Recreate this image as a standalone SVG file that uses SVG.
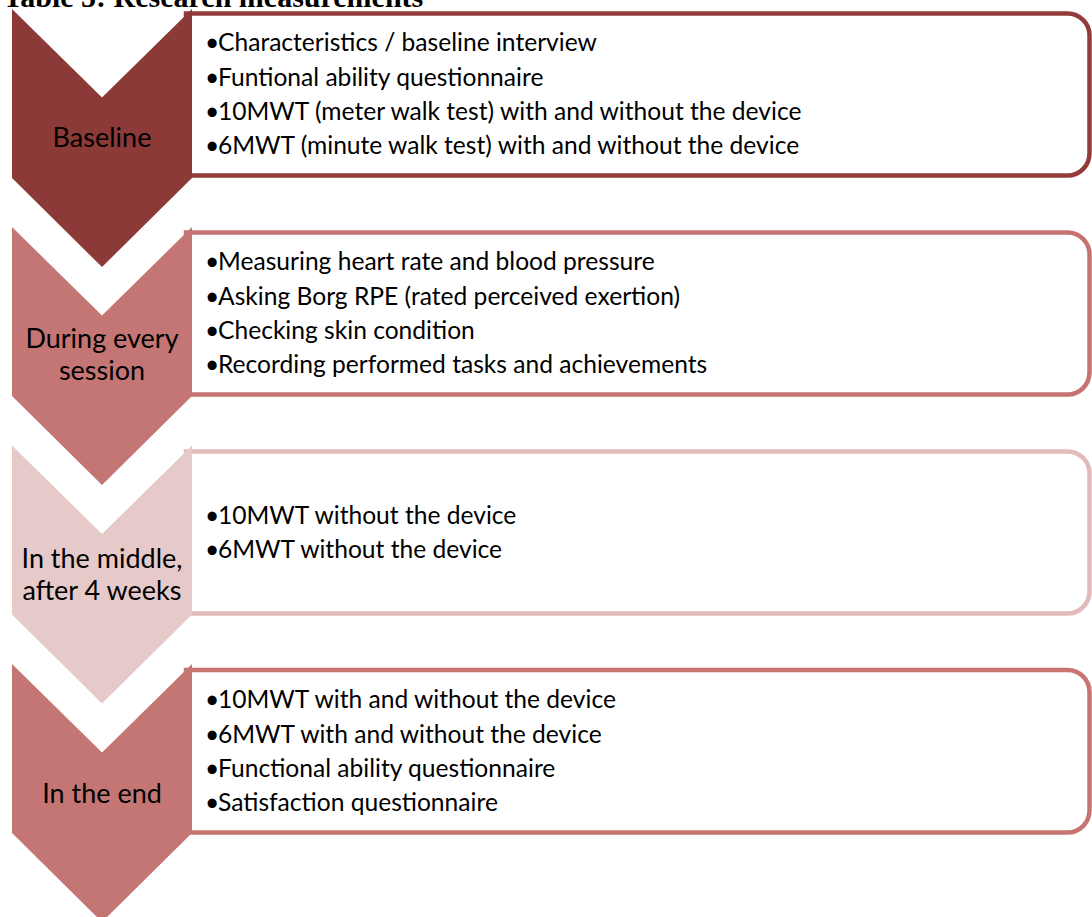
<svg xmlns="http://www.w3.org/2000/svg" width="1092" height="917" viewBox="0 0 1092 917">
  <style>
    .title { font-family: "Liberation Serif", serif; font-weight: bold; font-size: 30px; fill: #000; }
    .label { font-family: Lato, "Open Sans", sans-serif; font-size: 27px; fill: #000; text-anchor: middle; }
    .item { font-family: Lato, "Open Sans", sans-serif; font-size: 24.6px; fill: #000; }
    .box { fill: #fff; stroke-width: 4.5; }
    .dark { fill: #8b3a38; }
    .mid { fill: #c47674; }
    .light { fill: #e6c9c9; }
  </style>

  <text class="title" x="3" y="7">Table 5: Research measurements</text>

  <!-- Stage 1 -->
  <g id="stage-baseline">
    <path class="box" stroke="#943c3b" d="M186 13.5 H1067.5 A22 22 0 0 1 1089.5 35.5 V153.5 A22 22 0 0 1 1067.5 175.5 H186 Z"/>
    <path class="dark" d="M12 9 L102 97.5 L192 9 V178 L102 267 L12 178 Z"/>
    <text class="label" x="102" y="147">Baseline</text>
    <g class="item">
      <text x="205" y="51">•<tspan x="218">Characteristics / baseline interview</tspan></text>
      <text x="205" y="85.5">•<tspan x="218">Funtional ability questionnaire</tspan></text>
      <text x="205" y="120">•<tspan x="218">10MWT (meter walk test) with and without the device</tspan></text>
      <text x="205" y="154">•<tspan x="218">6MWT (minute walk test) with and without the device</tspan></text>
    </g>
  </g>

  <!-- Stage 2 -->
  <g id="stage-session">
    <path class="box" stroke="#c57471" d="M186 232.5 H1067.5 A22 22 0 0 1 1089.5 254.5 V372.5 A22 22 0 0 1 1067.5 394.5 H186 Z"/>
    <path class="mid" d="M12 227 L102 315.5 L192 227 V396 L102 485 L12 396 Z"/>
    <text class="label" x="102" y="348">During every</text>
    <text class="label" x="102" y="380">session</text>
    <g class="item">
      <text x="205" y="270">•<tspan x="218">Measuring heart rate and blood pressure</tspan></text>
      <text x="205" y="304.5">•<tspan x="218">Asking Borg RPE (rated perceived exertion)</tspan></text>
      <text x="205" y="339">•<tspan x="218">Checking skin condition</tspan></text>
      <text x="205" y="373">•<tspan x="218">Recording performed tasks and achievements</tspan></text>
    </g>
  </g>

  <!-- Stage 3 -->
  <g id="stage-middle">
    <path class="box" stroke="#e0bbb9" d="M186 451.5 H1067.5 A22 22 0 0 1 1089.5 473.5 V591.5 A22 22 0 0 1 1067.5 613.5 H186 Z"/>
    <path class="light" d="M12 445.5 L102 534 L192 445.5 V614.5 L102 703.5 L12 614.5 Z"/>
    <text class="label" x="102" y="568">In the middle,</text>
    <text class="label" x="102" y="600">after 4 weeks</text>
    <g class="item">
      <text x="205" y="523.5">•<tspan x="218">10MWT without the device</tspan></text>
      <text x="205" y="557.5">•<tspan x="218">6MWT without the device</tspan></text>
    </g>
  </g>

  <!-- Stage 4 -->
  <g id="stage-end">
    <path class="box" stroke="#c87472" d="M186 670 H1067.5 A22 22 0 0 1 1089.5 692 V810.5 A22 22 0 0 1 1067.5 832.5 H186 Z"/>
    <path class="mid" d="M12 664 L102 752.5 L192 664 V833 L102 922 L12 833 Z"/>
    <text class="label" x="102" y="803">In the end</text>
    <g class="item">
      <text x="205" y="708">•<tspan x="218">10MWT with and without the device</tspan></text>
      <text x="205" y="742.5">•<tspan x="218">6MWT with and without the device</tspan></text>
      <text x="205" y="777">•<tspan x="218">Functional ability questionnaire</tspan></text>
      <text x="205" y="811">•<tspan x="218">Satisfaction questionnaire</tspan></text>
    </g>
  </g>

  <!-- stages are stacked directly; no separate connector lines -->
  <g id="connectors"/>
</svg>
